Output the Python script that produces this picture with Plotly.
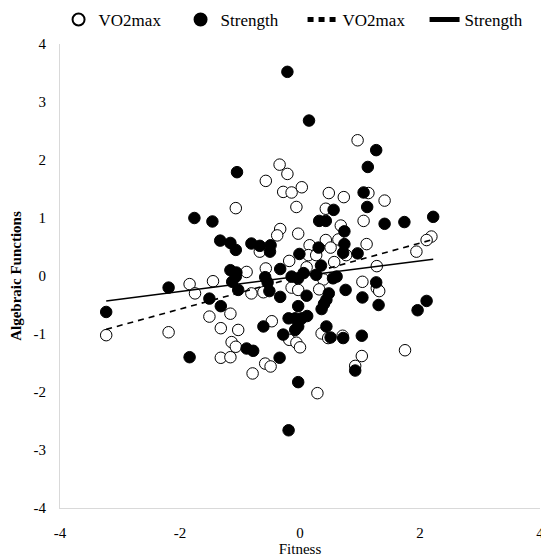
import plotly.graph_objects as go

vo2_x = [-1.07, 0.96, -0.34, -0.21, -0.57, -0.28, -0.14, 0.03, 0.48, 0.73, 1.14, 1.41, -0.06, 0.43,
         0.68, 1.06, -0.33, -0.38, -0.03, 2.19, 2.11, 1.94, -1.84, -1.45, -1.75, -1.51, -1.16, -1.32,
         -1.03, -1.14, -1.07, -3.23, -2.19, -1.32, -1.16, -0.67, 0.16, 0.43, 0.64, 0.51, 1.11, 0.14,
         0.27, 0.57, 0.77, -0.18, 0.11, -0.57, -0.89, 0.39, 1.28, 1.28, 1.32, 1.04, -0.81, -0.61,
         -0.14, -0.03, 0.32, -0.47, -0.18, -0.06, 0.00, 0.36, 0.47, 0.71, -0.58, -0.49, -0.79, 1.03,
         0.92, 1.75, 0.29]
vo2_y = [1.17, 2.34, 1.92, 1.76, 1.64, 1.45, 1.44, 1.53, 1.43, 1.36, 1.43, 1.30, 1.19, 1.16,
         0.87, 0.95, 0.81, 0.70, 0.73, 0.68, 0.62, 0.42, -0.14, -0.09, -0.30, -0.70, -0.65, -0.90,
         -0.93, -1.14, -1.22, -1.02, -0.97, -1.41, -1.40, 0.42, 0.53, 0.62, 0.63, 0.49, 0.55, 0.36,
         0.36, 0.24, 0.36, 0.26, 0.15, 0.13, 0.07, -0.06, 0.17, -0.21, -0.26, -0.10, -0.30, -0.28,
         -0.20, -0.24, -0.23, -0.78, -1.10, -1.15, -1.23, -0.99, -1.07, -1.03, -1.51, -1.56, -1.68, -1.38,
         -1.55, -1.28, -2.02]

str_x = [-1.05, -1.76, -1.46, -0.21, 0.15, 1.27, 1.13, 1.06, 0.56, 1.12, 0.32, 0.43, 0.74, 1.41,
         1.74, 2.22, -1.33, -1.16, -1.07, -1.16, -1.06, -1.13, -1.03, -2.19, -1.51, -1.32, -3.23, -1.84,
         -0.81, -0.67, -0.49, -0.50, 0.31, 0.74, 0.72, -0.01, 0.96, -0.33, 0.35, -1.07, -0.58, -0.54,
         -0.14, -0.03, 0.06, 0.27, 0.61, 0.55, 1.27, 0.76, 1.04, 1.31, -0.51, -0.33, 0.11, 0.48,
         0.44, 0.40, 0.36, -0.03, 0.12, 0.03, -0.19, -0.08, -0.61, -0.03, -0.08, -0.28, 0.44, 0.51,
         0.72, 1.03, -0.89, -0.78, -0.34, 0.92, -0.03, 2.11, 1.96, -0.19]
str_y = [1.79, 1.00, 0.94, 3.52, 2.68, 2.17, 1.88, 1.44, 1.14, 1.19, 0.95, 0.95, 0.77, 0.90,
         0.93, 1.02, 0.61, 0.57, 0.45, 0.10, 0.06, -0.10, -0.24, -0.20, -0.39, -0.52, -0.62, -1.40,
         0.56, 0.52, 0.53, 0.42, 0.49, 0.55, 0.40, 0.38, 0.39, 0.12, 0.18, -0.01, -0.02, -0.11,
         -0.01, -0.04, 0.05, 0.02, -0.01, -0.04, -0.11, -0.24, -0.37, -0.50, -0.26, -0.36, -0.34, -0.30,
         -0.41, -0.48, -0.57, -0.52, -0.69, -0.73, -0.73, -0.73, -0.87, -0.87, -0.93, -1.01, -0.87, -1.06,
         -1.07, -1.03, -1.25, -1.29, -1.41, -1.63, -1.83, -0.43, -0.59, -2.66]

# fitted trend lines (end points)
fit_x = [-3.23, 2.22]
vo2_fit_y = [-0.92, 0.63]
str_fit_y = [-0.43, 0.29]

xtick_vals = [-4, -2, 0, 2, 4]
xtick_text = ["-4", "-2", "0", "2", "4"]
ytick_vals = [-4, -3, -2, -1, 0, 1, 2, 3, 4]
ytick_text = ["-4", "-3", "-2", "-1", "0", "1", "2", "3", "4"]

FONT = "Liberation Serif"

fig = go.Figure()
fig.add_trace(go.Scatter(x=vo2_x, y=vo2_y, mode="markers", name="VO2max",
                         marker=dict(size=11.5, color="white", line=dict(color="black", width=1))))
fig.add_trace(go.Scatter(x=str_x, y=str_y, mode="markers", name="Strength",
                         marker=dict(size=11.5, color="black", line=dict(color="black", width=1))))
fig.add_trace(go.Scatter(x=fit_x, y=vo2_fit_y, mode="lines", name="VO2max",
                         line=dict(color="black", width=1.6, dash="6px,5px")))
fig.add_trace(go.Scatter(x=fit_x, y=str_fit_y, mode="lines", name="Strength",
                         line=dict(color="black", width=1.6)))

# the page body adds an 8px margin, so the figure is sized to fit the 549x560 window
fig.update_layout(
    width=541, height=552,
    margin=dict(l=52, r=9, t=36, b=52, autoexpand=False),
    paper_bgcolor="white", plot_bgcolor="white",
    font=dict(family=FONT, size=14, color="black"),
    showlegend=True,
    legend=dict(orientation="h", x=-0.003, xanchor="left", y=1.0 + 42 / 464, yanchor="top",
                font=dict(size=17), itemwidth=30, entrywidth=77, entrywidthmode="pixels",
                traceorder="normal", itemsizing="constant"),
    xaxis=dict(range=[-4, 4], tickvals=xtick_vals, ticktext=xtick_text, showgrid=False, zeroline=False,
               showline=True, linecolor="#d9d9d9", linewidth=1,
               ticks="outside", ticklen=11, tickcolor="rgba(0,0,0,0)",
               tickfont=dict(size=15), ticklabeloverflow="allow",
               title=dict(text="Fitness", font=dict(size=15), standoff=0)),
    yaxis=dict(range=[-4, 4], tickvals=ytick_vals, ticktext=ytick_text, showgrid=False, zeroline=False,
               showline=True, linecolor="#d9d9d9", linewidth=1,
               ticks="outside", ticklen=10, tickcolor="rgba(0,0,0,0)",
               tickfont=dict(size=15),
               title=dict(text="<b>Algebraic Functions</b>", font=dict(size=15), standoff=16)),
)

fig.write_html("out.html")
